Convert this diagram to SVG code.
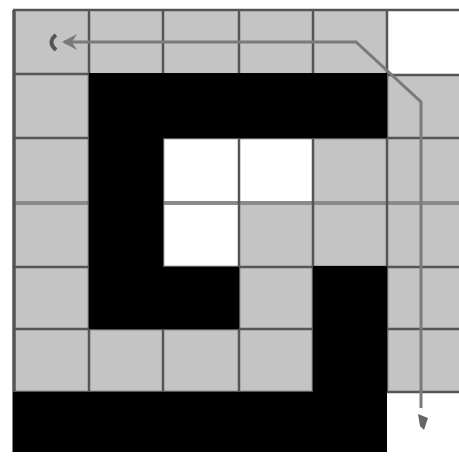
<svg xmlns="http://www.w3.org/2000/svg" width="459" height="458" viewBox="0 0 459 458">
<defs>
<style>
.g{fill:#c4c4c4}
.w{fill:#ffffff}
.b{fill:#000000}
.ln{stroke:#555555;stroke-width:2.5;fill:none}
.lt{stroke:#8a8a8a;stroke-width:4;fill:none}
.path{stroke:#7a7a7a;stroke-width:3;fill:none;stroke-linejoin:miter}
</style>
<marker id="ah" viewBox="0 0 16 18" refX="13" refY="9" markerWidth="16" markerHeight="18" markerUnits="userSpaceOnUse" orient="auto">
<path d="M0,1 L15,9 L0,17 L5,9 Z" fill="#7a7a7a"/>
</marker>
</defs>
<rect width="459" height="458" fill="#ffffff"/>
<g id="cells">
<rect class="g" x="13" y="10" width="446" height="382"/>
<rect class="w" x="387" y="10" width="72" height="64"/>
<rect class="w" x="163" y="138" width="150" height="65"/>
<rect class="w" x="163" y="203" width="76" height="64"/>
</g>
<g id="grid">
<path class="ln" d="M13,10 H459 M13,74 H89 M387,75 H459 M13,138 H459 M13,267 H459 M13,329 H459 M13,392 H459"/>
<path class="lt" d="M13,203 H459"/>
<path class="ln" d="M89,10 V392 M163,10 V392 M239,10 V392 M313,10 V392 M387,10 V392"/>
<path stroke="#555555" stroke-width="3.5" d="M14,10 V452"/>
</g>
<g id="walls">
<path class="b" d="M89,73 H387 V138 H163 V267 H239 V329 H89 Z"/>
<rect class="b" x="313" y="266" width="74" height="186"/>
<rect class="b" x="13" y="392" width="374" height="60"/>
</g>
<g id="connectors">
<path class="path" d="M421,408 V102 L356,42 H64" marker-end="url(#ah)"/>
<path d="M56,35 Q47,42 56,50" stroke="#555" stroke-width="4" fill="none"/>
<path d="M418,414 L428,418 L424,430 L420,426 Z" fill="#666"/>
</g>
</svg>
